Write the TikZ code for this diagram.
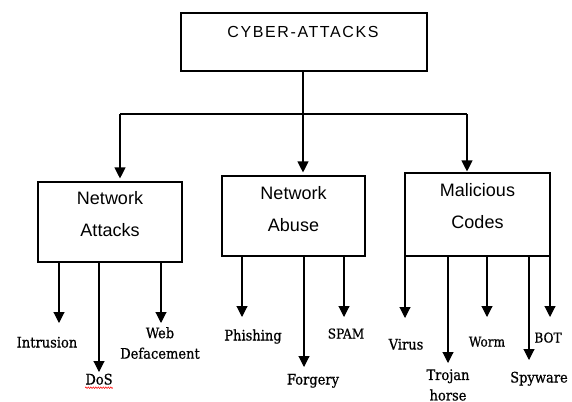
\documentclass[tikz,border=0pt]{standalone}
\usepackage{fontspec}
\setmainfont{DejaVu Serif Condensed}
\newfontfamily\leaffont[FakeBold=0.7]{DejaVu Serif Condensed}
\newfontfamily\arial{Liberation Sans}
\newfontfamily\arialsp[LetterSpace=10]{Liberation Sans}
\usetikzlibrary{arrows.meta,decorations.pathmorphing}
\tikzset{
  box/.style   = {draw, line width=1.1pt, inner sep=0pt},
  ttl/.style   = {font=\arialsp\fontsize{16}{19}\selectfont, inner sep=0pt},
  boxT/.style  = {font=\arial\fontsize{18}{32}\selectfont, align=center,
                  inner sep=0pt},
  leaf/.style  = {font=\leaffont\fontsize{14.5}{20}\selectfont, inner sep=0pt,
                  text height=.7em, text depth=.2em},
  leafS/.style = {leaf, font=\leaffont\fontsize{13.5}{17}\selectfont},
  leafII/.style= {font=\leaffont\fontsize{14.5}{20.5}\selectfont, align=center,
                  inner sep=0pt},
  L/.style     = {line width=1.1pt},
  A/.style     = {-{Triangle[length=11pt,width=11pt]}, line width=1.1pt},
  wavy/.style  = {red, line width=.5pt, decorate,
                  decoration={zigzag, segment length=2.5pt, amplitude=.8pt}},
}

\begin{document}
\begin{tikzpicture}[x=1pt, y=-1pt]
\useasboundingbox (0,0) rectangle (572,401);

%% ─── Root ────────────────────────────────────────────────────────
\node[box, minimum width=246pt, minimum height=58pt] (cyber) at (304,42) {};
\node[ttl] (cyberT) at (303,32) {CYBER-ATTACKS};

%% ─── Categories ──────────────────────────────────────────────────
\node[box, minimum width=144pt, minimum height=80pt] (na) at (110,222) {};
\node[boxT] (naT) at (110,214.5) {Network\\Attacks};

\node[box, minimum width=143pt, minimum height=80pt] (nb) at (293.5,216) {};
\node[boxT] (nbT) at (293.5,209) {Network\\Abuse};

\node[box, minimum width=145pt, minimum height=83pt] (mc) at (477.5,214.5) {};
\node[boxT] (mcT) at (477.5,206) {Malicious\\Codes};

%% ─── Root to categories ──────────────────────────────────────────
\coordinate (jL) at (120,114);
\coordinate (jM) at (303,114);
\coordinate (jR) at (467,114);

\draw[L] (cyber.south -| jM) -- (jM);
\draw[L] (jL) -- (jR);
\draw[A, shorten >=3pt] (jL) -- (jL |- na.north);
\draw[A, shorten >=3pt] (jM) -- (jM |- nb.north);
\draw[A, shorten >=1pt] (jR) -- (jR |- mc.north);

%% ════════════════════════════════════════════
%%  LEFT: Network Attacks
%% ════════════════════════════════════════════
\coordinate (tIn) at (59,323);
\coordinate (tDo) at (99,372);
\coordinate (tWe) at (161,323);

\draw[A] (tIn |- na.south) -- (tIn);
\draw[A] (tDo |- na.south) -- (tDo);
\draw[A] (tWe |- na.south) -- (tWe);

\node[leaf]   (intr) at (47,345)  {Intrusion};
\node[leaf]   (dos)  at (99,382)  {DoS};
\node[leafII] (web)  at (160,343) {Web\\Defacement};
\draw[wavy] ([yshift=-1pt]dos.south west) -- ([yshift=-1pt]dos.south east);

%% ════════════════════════════════════════════
%%  MIDDLE: Network Abuse
%% ════════════════════════════════════════════
\coordinate (tPh) at (242,317);
\coordinate (tFo) at (304,367);
\coordinate (tSp) at (344,317);

\draw[A] (tPh |- nb.south) -- (tPh);
\draw[A] (tFo |- nb.south) -- (tFo);
\draw[A] (tSp |- nb.south) -- (tSp);

\node[leaf]  (phish) at (253,338) {Phishing};
\node[leaf]  (forg)  at (313,382) {Forgery};
\node[leafS] (spam)  at (346,336) {SPAM};

%% ════════════════════════════════════════════
%%  RIGHT: Malicious Codes
%% ════════════════════════════════════════════
\coordinate (tVi) at (405,318);
\coordinate (tTr) at (448,363);
\coordinate (tWo) at (487,317);
\coordinate (tSw) at (529,360);
\coordinate (tBo) at (550,317);

\draw[A] (tVi |- mc.south) -- (tVi);
\draw[A] (tTr |- mc.south) -- (tTr);
\draw[A] (tWo |- mc.south) -- (tWo);
\draw[A] (tSw |- mc.south) -- (tSw);
\draw[A] (tBo |- mc.south) -- (tBo);

\node[leaf]   (virus) at (406,347) {Virus};
\node[leafII] (troj)  at (448,385) {Trojan\\horse};
\node[leafS]  (worm)  at (487,344) {Worm};
\node[leaf]   (spy)   at (539,380) {Spyware};
\node[leafS]  (bot)   at (548,340) {BOT};

\end{tikzpicture}
\end{document}
